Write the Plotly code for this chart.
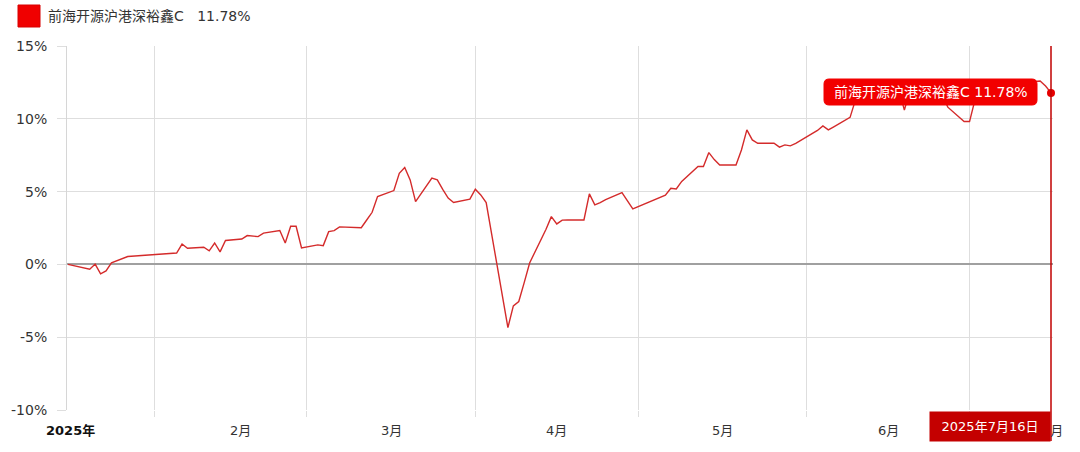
import plotly.graph_objects as go

fund_name = "前海开源沪港深裕鑫C"
last_label = "11.78%"
cursor_label = "2025年7月16日"

trade_dates = [
    "2025-01-16", "2025-01-17", "2025-01-20", "2025-01-21", "2025-01-22", "2025-01-23", "2025-01-24", "2025-01-27",
    "2025-02-05", "2025-02-06", "2025-02-07", "2025-02-10", "2025-02-11", "2025-02-12", "2025-02-13", "2025-02-14",
    "2025-02-17", "2025-02-18", "2025-02-19", "2025-02-20", "2025-02-21", "2025-02-24", "2025-02-25", "2025-02-26",
    "2025-02-27", "2025-02-28",
    "2025-03-03", "2025-03-04", "2025-03-05", "2025-03-06", "2025-03-07", "2025-03-10", "2025-03-11", "2025-03-12",
    "2025-03-13", "2025-03-14", "2025-03-17", "2025-03-18", "2025-03-19", "2025-03-20", "2025-03-21", "2025-03-24",
    "2025-03-25", "2025-03-26", "2025-03-27", "2025-03-28", "2025-03-31",
    "2025-04-01", "2025-04-02", "2025-04-03", "2025-04-07", "2025-04-08", "2025-04-09", "2025-04-10", "2025-04-11",
    "2025-04-14", "2025-04-15", "2025-04-16", "2025-04-17", "2025-04-18", "2025-04-21", "2025-04-22", "2025-04-23",
    "2025-04-24", "2025-04-25", "2025-04-28", "2025-04-29", "2025-04-30",
    "2025-05-06", "2025-05-07", "2025-05-08", "2025-05-09", "2025-05-12", "2025-05-13", "2025-05-14", "2025-05-15",
    "2025-05-16", "2025-05-19", "2025-05-20", "2025-05-21", "2025-05-22", "2025-05-23", "2025-05-26", "2025-05-27",
    "2025-05-28", "2025-05-29", "2025-05-30",
    "2025-06-03", "2025-06-04", "2025-06-05", "2025-06-06", "2025-06-09", "2025-06-10", "2025-06-11", "2025-06-12",
    "2025-06-13", "2025-06-16", "2025-06-17", "2025-06-18", "2025-06-19", "2025-06-20", "2025-06-23", "2025-06-24",
    "2025-06-25", "2025-06-26", "2025-06-27", "2025-06-30",
    "2025-07-01", "2025-07-02", "2025-07-03", "2025-07-04", "2025-07-07", "2025-07-08", "2025-07-09", "2025-07-10",
    "2025-07-11", "2025-07-14", "2025-07-15", "2025-07-16",
]

returns_pct = [
    0.00, -0.08, -0.33, 0.02, -0.65, -0.45, 0.10, 0.54,
    0.78, 1.40, 1.11, 1.18, 0.93, 1.47, 0.86, 1.64,
    1.74, 1.98, 1.93, 1.91, 2.15, 2.33, 1.47, 2.62,
    2.62, 1.13,
    1.34, 1.29, 2.25, 2.32, 2.58, 2.55, 2.52, 3.05,
    3.58, 4.66, 5.07, 6.26, 6.65, 5.80, 4.31, 5.92,
    5.80, 5.15, 4.55, 4.25, 4.48,
    5.16, 4.77, 4.25, -4.34, -2.85, -2.55, -1.25, 0.10,
    2.40, 3.28, 2.78, 3.04, 3.05, 3.05, 4.84, 4.09,
    4.25, 4.45, 4.93, 4.40, 3.81,
    4.75, 5.23, 5.18, 5.70, 6.72, 6.72, 7.68, 7.20,
    6.83, 6.83, 7.86, 9.24, 8.55, 8.32, 8.32, 8.05,
    8.21, 8.14, 8.31,
    9.20, 9.51, 9.24, 9.45, 10.10, 11.30, 11.60, 11.40,
    11.20, 11.70, 11.90, 12.00, 10.60, 11.90, 12.10, 12.30,
    12.00, 11.60, 10.80, 9.81,
    9.81, 11.30, 11.60, 11.90, 12.10, 12.30, 12.20, 12.40,
    12.50, 12.60, 12.25, 11.78,
]

month_starts = ["2025-02-01", "2025-03-01", "2025-04-01", "2025-05-01", "2025-06-01", "2025-07-01"]
month_label_pos = ["2025-01-16 12:00", "2025-02-16 18:00", "2025-03-16 12:00", "2025-04-16",
                   "2025-05-16 12:00", "2025-06-16"]
month_labels = ["<b>2025年</b>", "2月", "3月", "4月", "5月", "6月"]
last_month_label = "7月"
y_ticks = [-10, -5, 0, 5, 10, 15]
y_ticktext = ["-10%", "-5%", "0%", "5%", "10%", "15%"]

FONT = "DejaVu Sans, Noto Sans CJK SC, sans-serif"
W, H = 1080, 452
L, R, T, B = 67, 27, 46, 42
PW, PH = W - L - R, H - T - B
GRID = "#dedede"


def px(x):
    return (x - L) / PW


def py(y):
    return (H - B - y) / PH


fig = go.Figure()
fig.add_trace(go.Scatter(
    x=trade_dates, y=returns_pct, mode="lines",
    line=dict(color="#d42b2b", width=1.4),
    hoverinfo="skip", showlegend=False,
))
fig.add_trace(go.Scatter(
    x=trade_dates[-1:], y=returns_pct[-1:], mode="markers",
    marker=dict(color="#e60000", size=8),
    hoverinfo="skip", showlegend=False, cliponaxis=False,
))

shapes = []
# crosshair
shapes.append(dict(type="line", xref="x", yref="paper", x0=trade_dates[-1], x1=trade_dates[-1],
                   y0=py(441), y1=1, line=dict(color="#c00000", width=1.5), layer="above"))
# legend swatch
shapes.append(dict(type="rect", xref="paper", yref="paper", x0=px(18), x1=px(40), y0=py(27), y1=py(5),
                   fillcolor="#f00000", line=dict(color="#d80000", width=1)))
# tooltip rounded box
bx0, bx1, by0, by1, r = 824, 1037, 79, 105, 5
pth = (f"M {px(bx0 + r)},{py(by0)} L {px(bx1 - r)},{py(by0)} Q {px(bx1)},{py(by0)} {px(bx1)},{py(by0 + r)} "
       f"L {px(bx1)},{py(by1 - r)} Q {px(bx1)},{py(by1)} {px(bx1 - r)},{py(by1)} "
       f"L {px(bx0 + r)},{py(by1)} Q {px(bx0)},{py(by1)} {px(bx0)},{py(by1 - r)} "
       f"L {px(bx0)},{py(by0 + r)} Q {px(bx0)},{py(by0)} {px(bx0 + r)},{py(by0)} Z")
shapes.append(dict(type="path", xref="paper", yref="paper", path=pth,
                   fillcolor="#f20000", line=dict(color="#f20000", width=1), layer="above"))

annotations = []
for pos, lab in zip(month_label_pos, month_labels):
    annotations.append(dict(x=pos, y=py(430), xref="x", yref="paper", text=lab, showarrow=False,
                            xanchor="center", yanchor="middle",
                            font=dict(family=FONT, size=13, color="#111" if "<b>" in lab else "#333")))
annotations.append(dict(x=trade_dates[-1], y=py(430), xref="x", yref="paper", text=last_month_label,
                        showarrow=False, xanchor="center", yanchor="middle", xshift=1,
                        font=dict(family=FONT, size=13, color="#333")))
annotations.append(dict(x=trade_dates[-1], y=py(426), xref="x", yref="paper", text=cursor_label,
                        showarrow=False, xanchor="right", yanchor="middle", bgcolor="#c40000",
                        width=118, height=27, borderpad=1,
                        font=dict(family=FONT, size=13, color="white")))
annotations.append(dict(x=px((bx0 + bx1) / 2), y=py((by0 + by1) / 2), xref="paper", yref="paper",
                        text=f"{fund_name} {last_label}", showarrow=False, xanchor="center", yanchor="middle",
                        font=dict(family=FONT, size=14, color="white")))
annotations.append(dict(x=px(46), y=py(16), xref="paper", yref="paper",
                        text=f"{fund_name}\u00a0\u00a0\u00a0{last_label}", showarrow=False,
                        xanchor="left", yanchor="middle", font=dict(family=FONT, size=14, color="#333")))

fig.update_layout(
    width=W, height=H, margin=dict(l=L, r=R, t=T, b=B),
    paper_bgcolor="white", plot_bgcolor="white",
    font=dict(family=FONT, size=14, color="#333"),
    shapes=shapes, annotations=annotations, hovermode=False,
)
fig.update_xaxes(
    type="date", range=["2025-01-15 19:35", "2025-07-16 08:50"],
    tickmode="array", tickvals=month_starts, showticklabels=False,
    showgrid=True, gridcolor=GRID, gridwidth=1,
    ticks="outside", ticklen=6, tickcolor=GRID,
    showline=False, zeroline=False, fixedrange=True,
)
fig.update_yaxes(
    range=[-10, 15], tickmode="array", tickvals=y_ticks, ticktext=y_ticktext,
    showgrid=True, gridcolor=GRID, gridwidth=1,
    ticks="outside", ticklen=9, tickcolor=GRID, ticklabelstandoff=7,
    showline=True, linecolor="#d6d6d6", linewidth=1,
    zeroline=True, zerolinecolor="#a0a0a0", zerolinewidth=1.5,
    tickfont=dict(family=FONT, size=14, color="#333"), fixedrange=True,
)

fig.write_html("out.html", config={"displayModeBar": False},
               post_script="document.body.style.margin='0';document.body.style.overflow='hidden';")
